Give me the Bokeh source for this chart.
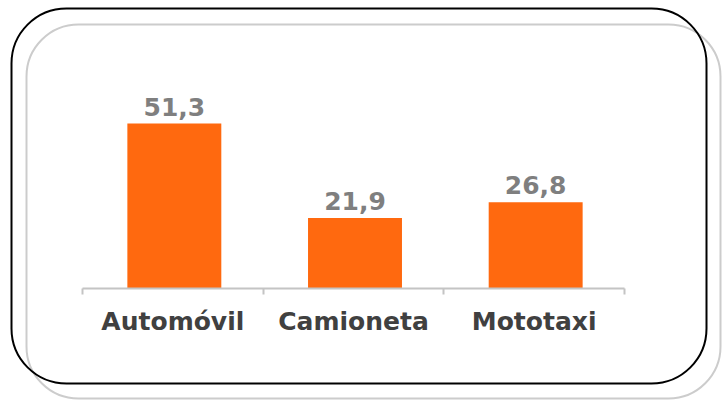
from bokeh.plotting import figure
from bokeh.models import (ColumnDataSource, Range1d, LinearAxis, FixedTicker,
                          BoxAnnotation)
from bokeh.core.properties import value
from bokeh.transform import dodge
from bokeh.embed import file_html
from bokeh.resources import INLINE

categories = ["Automóvil", "Camioneta", "Mototaxi"]
values = [51.3, 21.9, 26.8]
value_labels = ["51,3", "21,9", "26,8"]

W, H = 722, 405
# pixel layout of the plotting area (canvas pixels)
AX_L, AX_R, AX_Y = 82, 624, 288
PX_PER_UNIT = 165 / 51.3

n = len(categories)
px_per_cat = (AX_R - AX_L) / n
x_start = -AX_L / px_per_cat
x_end = n + (W - AX_R) / px_per_cat
y_end = AX_Y / PX_PER_UNIT
y_start = -(H - AX_Y) / PX_PER_UNIT

xs = [i + 0.5 for i in range(n)]
src = ColumnDataSource(dict(x=xs, top=values, label=value_labels))

p = figure(width=W, height=H, output_backend="svg", toolbar_location=None,
           x_range=Range1d(x_start, x_end), y_range=Range1d(y_start, y_end),
           x_axis_location=None, y_axis_location=None,
           min_border_left=0, min_border_right=0,
           min_border_top=0, min_border_bottom=0)
p.outline_line_color = None
p.xgrid.visible = False
p.ygrid.visible = False
p.background_fill_color = "white"
p.border_fill_color = "white"

# decorative rounded frames (canvas pixels, y measured from top)
def canvas_box(l, t, r, b, color, lw, radius):
    return BoxAnnotation(left=l, right=r, top=t, bottom=b,
                         left_units="canvas", right_units="canvas",
                         top_units="canvas", bottom_units="canvas",
                         fill_color=None, fill_alpha=0,
                         line_color=color, line_alpha=1, line_width=lw,
                         border_radius=radius, level="overlay")

p.add_layout(canvas_box(26, 24, 720, 398, "#cccccc", 2, 52))
p.add_layout(canvas_box(11, 8, 706, 383, "#000000", 2, 55))

p.vbar(x=dodge("x", 1.5 / px_per_cat, range=p.x_range), top="top",
       width=0.52, bottom=0, source=src,
       fill_color="#FF690F", line_color=None)

p.text(x=dodge("x", 1.5 / px_per_cat, range=p.x_range),
       y=dodge("top", 17 / PX_PER_UNIT, range=p.y_range), text="label",
       source=src, text_align="center", text_baseline="alphabetic",
       text_font=value("DejaVu Sans"), text_font_style="bold",
       text_font_size="25px", text_color="#7f7f7f")

xaxis = LinearAxis(
    fixed_location=0, bounds=(0, n),
    ticker=FixedTicker(ticks=xs, minor_ticks=list(range(n + 1))),
    major_label_overrides={x: c for x, c in zip(xs, categories)},
    major_tick_line_color=None,
    minor_tick_in=0, minor_tick_out=6,
    minor_tick_line_color="#c4c4c4", minor_tick_line_width=2,
    axis_line_color="#c4c4c4", axis_line_width=2,
    major_label_standoff=12,
    major_label_text_font="DejaVu Sans", major_label_text_font_style="bold",
    major_label_text_font_size="25px", major_label_text_color="#404040")
p.add_layout(xaxis, "below")

open("out.html", "w").write(file_html(p, INLINE))
